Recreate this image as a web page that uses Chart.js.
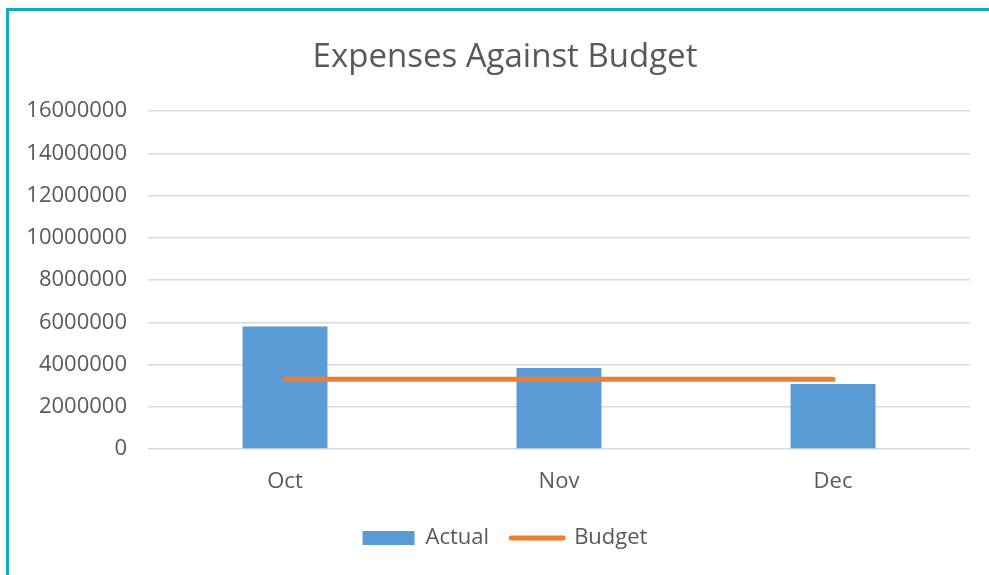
<!DOCTYPE html>
<html>
<head>
<meta charset="utf-8">
<script src="https://cdn.jsdelivr.net/npm/chart.js@4.4.0/dist/chart.umd.min.js"></script>
<style>
  html, body { margin: 0; padding: 0; background: #ffffff; }
  #wrap { position: relative; width: 989px; height: 575px; overflow: hidden; }
  #c { position: absolute; left: 0; top: 0; }
  #frame { position: absolute; left: 6px; top: 8px; width: 990px; height: 580px;
           border-left: 3px solid #17a9b6; border-top: 3px solid #17a9b6; pointer-events: none; }
</style>
</head>
<body>
<div id="wrap">
  <canvas id="c" width="989" height="575"></canvas>
  <div id="frame"></div>
</div>
<script>
const categories = ['Oct', 'Nov', 'Dec'];
const actualValues = [5800000, 3830000, 3080000];
const budgetValues = [3300000, 3300000, 3300000];
const yTickValues = [0, 2000000, 4000000, 6000000, 8000000, 10000000, 12000000, 14000000, 16000000];

const FONT = "'Open Sans', 'DejaVu Sans', sans-serif";
const TEXT = '#595959';

new Chart(document.getElementById('c'), {
  data: {
    labels: categories,
    datasets: [
      {
        type: 'line',
        label: 'Budget',
        data: budgetValues,
        borderColor: '#ed7d31',
        backgroundColor: '#ed7d31',
        borderWidth: 5,
        borderCapStyle: 'round',
        pointRadius: 0,
        pointHoverRadius: 0,
        pointStyle: 'line',
        tension: 0,
        order: 0
      },
      {
        type: 'bar',
        label: 'Actual',
        data: actualValues,
        backgroundColor: '#5b9bd5',
        borderWidth: 0,
        categoryPercentage: 1.0,
        barPercentage: 0.31,
        order: 1
      }
    ]
  },
  options: {
    responsive: false,
    animation: false,
    layout: { padding: { left: 40, right: 19, top: 0, bottom: 16 } },
    plugins: {
      title: {
        display: true,
        text: 'Expenses Against Budget',
        color: TEXT,
        font: { family: FONT, size: 33, weight: 'normal', lineHeight: 1.2 },
        padding: { top: 38, bottom: 33.4 }
      },
      legend: {
        display: true,
        position: 'bottom',
        reverse: true,
        labels: {
          color: TEXT,
          font: { family: FONT, size: 22 },
          usePointStyle: true,
          pointStyleWidth: 52,
          boxHeight: 14,
          padding: 22,
          generateLabels: function(chart) {
            const items = Chart.defaults.plugins.legend.labels.generateLabels(chart);
            items.forEach(it => {
              if (it.text === 'Actual') { it.pointStyle = 'rect'; it.lineWidth = 0; }
              else { it.pointStyle = 'line'; it.lineWidth = 5; it.lineCap = 'round'; }
            });
            return items;
          }
        }
      },
      tooltip: { enabled: false }
    },
    scales: {
      x: {
        grid: { display: false, drawTicks: false },
        border: { display: false },
        ticks: { color: TEXT, font: { family: FONT, size: 22 }, padding: 20 },
        afterFit: s => { s.height = 56; }
      },
      y: {
        min: 0,
        max: 16000000,
        afterBuildTicks: s => { s.ticks = yTickValues.map(v => ({ value: v })); },
        grid: { color: '#d9d9d9', lineWidth: 1.5, drawTicks: false },
        border: { display: false },
        ticks: { color: TEXT, font: { family: FONT, size: 22 }, padding: 21,
                 callback: v => String(v) },
        afterFit: s => { s.width = 108; },
        afterUpdate: s => { s._computeLabelArea = function () { return undefined; }; }
      }
    }
  }
});
</script>
</body>
</html>
